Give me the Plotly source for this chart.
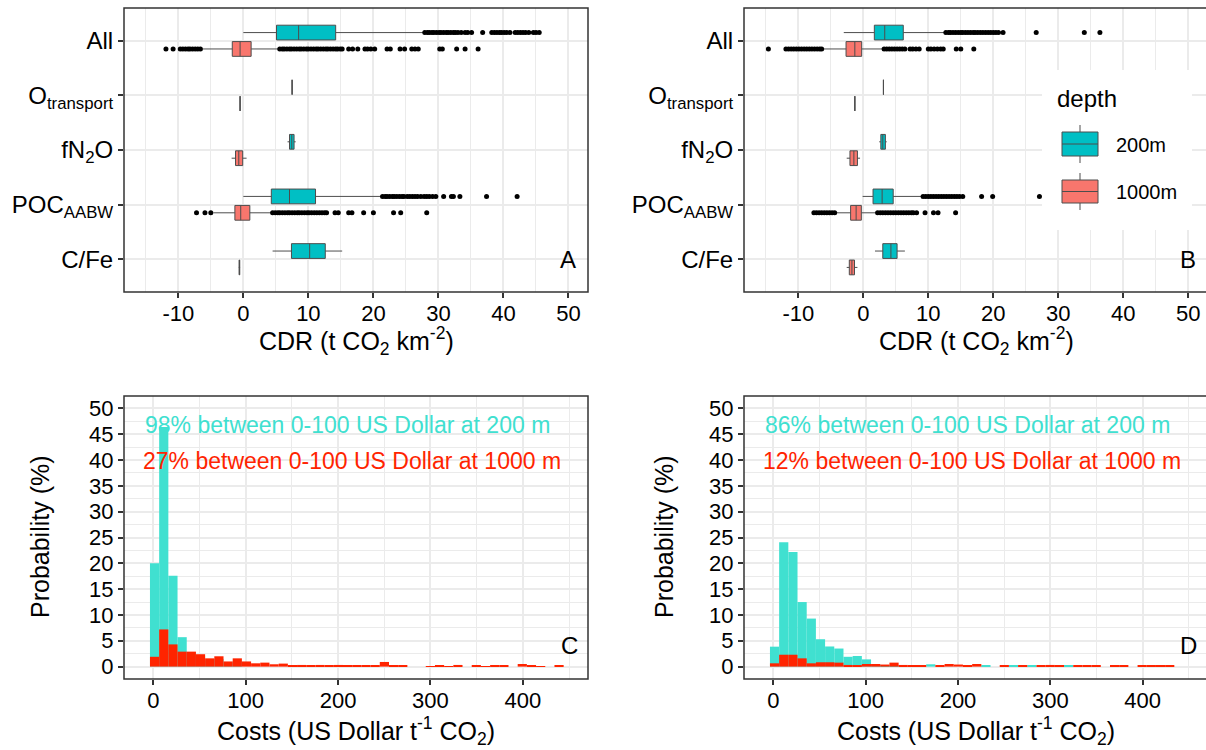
import plotly.graph_objects as go

W, H = 1206, 750
FONT = "Liberation Sans, Arial, sans-serif"

# ---------------- data: panels A / B (CDR boxplots) ----------------
categories = ["C/Fe", "POC<sub>AABW</sub>", "fN<sub>2</sub>O", "O<sub>transport</sub>", "All"]
cat_keys = ["CFe", "POC", "fN2O", "Otr", "All"]
depth_labels = ["200m", "1000m"]
x_ticks_cdr = [-10, 0, 10, 20, 30, 40, 50]
x_ticktext_cdr = ["-10", "0", "10", "20", "30", "40", "50"]

# order: C/Fe, POC_AABW, fN2O, O_transport, All
A200_low = [4.5, 0.0, 6.8, 7.5, 0.0]
A200_q1 = [7.4, 4.3, 7.1, 7.5, 5.1]
A200_med = [10.2, 7.1, 7.45, 7.5, 8.5]
A200_q3 = [12.6, 11.1, 7.8, 7.5, 14.2]
A200_up = [15.2, 21.1, 8.05, 7.5, 27.7]

A1000_low = [-0.7, -4.6, -1.8, -0.5, -6.2]
A1000_q1 = [-0.65, -1.3, -1.2, -0.5, -1.7]
A1000_med = [-0.6, -0.4, -0.7, -0.5, -0.5]
A1000_q3 = [-0.55, 1.0, -0.1, -0.5, 1.2]
A1000_up = [-0.5, 4.4, 0.5, -0.5, 5.4]

B200_low = [1.8, -0.1, 2.45, 3.1, -3.0]
B200_q1 = [3.0, 1.5, 2.7, 3.1, 1.7]
B200_med = [4.25, 2.9, 3.0, 3.1, 3.3]
B200_q3 = [5.2, 4.6, 3.4, 3.1, 6.15]
B200_up = [6.4, 9.1, 3.6, 3.1, 12.6]

B1000_low = [-2.55, -4.1, -2.55, -1.3, -6.2]
B1000_q1 = [-2.15, -1.95, -2.05, -1.3, -2.65]
B1000_med = [-1.75, -1.1, -1.45, -1.3, -1.3]
B1000_q3 = [-1.35, -0.3, -0.9, -1.3, -0.25]
B1000_up = [-0.9, 2.05, -0.5, -1.3, 3.1]

A200_out = {
    "All": [27.9, 28.3, 28.6, 29.0, 29.3, 29.7, 30.1, 30.4, 30.8, 31.2, 31.5, 31.9,
            32.3, 32.6, 33.0, 33.5, 34.1, 34.5, 35.1, 36.8, 38.2, 38.6, 39.0, 39.4,
            39.7, 40.1, 40.5, 41.0, 41.8, 42.2, 42.6, 43.0, 43.4, 43.9, 44.6, 45.0, 45.5],
    "POC": [21.4, 21.8, 22.1, 22.5, 22.9, 23.2, 23.6, 24.0, 24.4, 24.7, 25.2, 25.6,
            26.0, 26.4, 26.8, 27.3, 27.8, 28.2, 28.6, 29.1, 29.6, 30.8, 32.0, 32.3,
            33.3, 37.4, 42.1],
}
A1000_out = {
    "All": [-11.9, -10.8, -9.7, -9.3, -8.9, -8.5, -8.2, -7.8, -7.4, -7.0, -6.6,
            5.6, 6.0, 6.3, 6.7, 7.1, 7.4, 7.8, 8.2, 8.6, 8.9, 9.3, 9.7, 10.0, 10.4,
            10.8, 11.2, 11.5, 11.9, 12.3, 12.7, 13.0, 13.4, 13.8, 14.2, 14.5, 14.9,
            15.2, 16.2, 16.8, 17.6, 18.7, 19.1, 19.6, 20.2, 22.1, 22.6, 24.1, 24.8,
            25.9, 26.4, 26.9, 30.2, 30.6, 32.8, 34.1, 36.1],
    "POC": [-7.2, -5.9, -5.0, 4.5, 4.9, 5.3, 5.6, 6.0, 6.4, 6.8, 7.1, 7.5, 7.9, 8.3,
            8.6, 9.0, 9.4, 9.8, 10.1, 10.5, 10.9, 11.3, 11.7, 12.1, 12.5, 12.8, 14.1,
            14.6, 16.2, 16.7, 18.5, 20.0, 23.1, 24.2, 28.2],
}
B200_out = {
    "All": [12.7, 13.1, 13.4, 13.8, 14.2, 14.6, 15.0, 15.3, 15.7, 16.1, 16.5, 16.9,
            17.2, 17.6, 18.0, 18.4, 18.8, 19.2, 19.6, 20.0, 20.4, 20.8, 21.5, 26.6,
            34.0, 36.4],
    "POC": [9.2, 9.6, 10.0, 10.4, 10.8, 11.2, 11.6, 12.0, 12.4, 12.8, 13.2, 13.6,
            14.0, 14.4, 14.8, 15.3, 18.2, 19.9, 27.1],
}
B1000_out = {
    "All": [-14.6, -11.9, -11.5, -11.1, -10.7, -10.3, -9.9, -9.5, -9.1, -8.7, -8.3,
            -7.9, -7.5, -7.1, -6.7, -6.4, 3.2, 3.6, 4.0, 4.4, 4.8, 5.2, 5.6, 6.0, 6.4,
            7.2, 7.6, 8.1, 8.6, 10.0, 10.4, 10.9, 11.4, 11.9, 12.3, 14.3, 15.0, 17.0],
    "POC": [-7.6, -7.2, -6.8, -6.4, -6.0, -5.6, -5.2, -4.8, -4.4, 2.2, 2.6, 3.0, 3.4,
            3.8, 4.2, 4.6, 5.0, 5.4, 5.8, 6.2, 6.6, 7.0, 7.4, 7.7, 8.2, 9.5, 10.8,
            11.5, 14.2],
}

# ---------------- data: panels C / D (cost histograms, % per bin) ----------------
BIN_START = -3.6     # left edge of first bin (US Dollar)
BIN_WIDTH = 9.95
cost_ticks = [0, 100, 200, 300, 400]
prob_ticks = [0, 5, 10, 15, 20, 25, 30, 35, 40, 45, 50]

C200_pct = [20.0, 46.4, 17.6, 5.7, 2.5, 2.0, 1.2, 1.5, 0.8, 1.0]
C1000_pct = [1.9, 7.2, 4.3, 2.9, 2.9, 2.4, 1.6, 2.0, 1.0, 1.6, 1.0, 0.64, 0.77, 0.45,
             0.58, 0.2, 0.32, 0.25, 0.32, 0.2, 0.32, 0.25, 0.25, 0.13, 0.2, 0.9, 0.25,
             0.25, 0, 0, 0.1, 0.2, 0.1, 0.32, 0, 0.2, 0.1, 0.2, 0.13, 0, 0.5, 0.2, 0.1,
             0, 0.15]
D200_pct = [3.86, 24.1, 22.2, 12.5, 9.3, 5.3, 3.9, 3.5, 1.9, 2.06, 1.4, 0.45, 0.26,
            0.3, 0, 0, 0, 0.45, 0, 0, 0, 0, 0, 0.26, 0, 0, 0.2, 0, 0.2, 0, 0, 0, 0.26]
D1000_pct = [0.64, 2.3, 2.3, 1.6, 0.64, 0.84, 0.84, 0.77, 0.32, 0.13, 0.5, 0.5, 0.4,
             0.77, 0.32, 0.2, 0.2, 0, 0.2, 0.5, 0.4, 0.2, 0.5, 0, 0, 0.2, 0, 0.2, 0,
             0.13, 0.32, 0.13, 0, 0.13, 0.13, 0.13, 0, 0.2, 0.13, 0, 0.13, 0.13, 0.13,
             0.13]

C_texts = ["98% between 0-100 US Dollar at 200 m", "27% between 0-100 US Dollar at 1000 m"]
D_texts = ["86% between 0-100 US Dollar at 200 m", "12% between 0-100 US Dollar at 1000 m"]

# ---------------- styles ----------------
TEAL_BOX, RED_BOX = "#00BFC4", "#F8766D"
TEAL_H, RED_H = "#40E0D0", "#FF2400"
OUTLINE = "#4d4d4d"
BORDER = "#333333"
GRID = "#EBEBEB"
BOX_W = 0.27
DODGE = 0.15
TICK_SIZE = 22
CAT_TICK_SIZE = 24
TITLE_SIZE = 25


def px(x):
    return x / W


def py(y):
    return 1 - y / H


fig = go.Figure()
cat_pos = list(range(1, len(categories) + 1))


def add_box_panel(xa, ya, stats200, stats1000, out200, out1000):
    for stats, outs, color, off in ((stats200, out200, TEAL_BOX, DODGE),
                                    (stats1000, out1000, RED_BOX, -DODGE)):
        low, q1, med, q3, up = stats
        fig.add_trace(go.Box(
            orientation="h", y=[p + off for p in cat_pos],
            lowerfence=low, q1=q1, median=med, q3=q3, upperfence=up,
            width=BOX_W, fillcolor=color, line=dict(color=OUTLINE, width=1),
            whiskerwidth=0, boxpoints=False, showlegend=False, hoverinfo="skip",
            xaxis=xa, yaxis=ya))
        ox, oy = [], []
        for k, vals in outs.items():
            pos = cat_pos[cat_keys.index(k)] + off
            ox += vals
            oy += [pos] * len(vals)
        fig.add_trace(go.Scatter(
            x=ox, y=oy, mode="markers", marker=dict(color="black", size=5),
            showlegend=False, hoverinfo="skip", xaxis=xa, yaxis=ya))


add_box_panel("x", "y", (A200_low, A200_q1, A200_med, A200_q3, A200_up),
              (A1000_low, A1000_q1, A1000_med, A1000_q3, A1000_up), A200_out, A1000_out)
add_box_panel("x2", "y2", (B200_low, B200_q1, B200_med, B200_q3, B200_up),
              (B1000_low, B1000_q1, B1000_med, B1000_q3, B1000_up), B200_out, B1000_out)


def add_hist_panel(xa, ya, v200, v1000):
    for vals, color in ((v200, TEAL_H), (v1000, RED_H)):
        centers = [BIN_START + BIN_WIDTH * (i + 0.5) for i in range(len(vals))]
        fig.add_trace(go.Bar(x=centers, y=vals, width=BIN_WIDTH,
                             marker=dict(color=color, line=dict(width=0)),
                             showlegend=False, hoverinfo="skip", xaxis=xa, yaxis=ya))


add_hist_panel("x3", "y3", C200_pct, C1000_pct)
add_hist_panel("x4", "y4", D200_pct, D1000_pct)

# ---------------- axes ----------------
tickfont = dict(family=FONT, size=TICK_SIZE, color="black")
common = dict(ticks="outside", ticklen=5, tickwidth=1.5, tickcolor=BORDER,
              tickfont=tickfont, showgrid=True, gridcolor=GRID, gridwidth=1.6,
              zeroline=False, showline=False, fixedrange=True)

dom_top = [py(292), py(8)]
dom_bot = [py(679), py(396)]
dom_left = [px(124), px(588)]
dom_right = [px(744), 1.0]

xcdr = dict(common, tickmode="array", tickvals=x_ticks_cdr, ticktext=x_ticktext_cdr,
            minor=dict(dtick=5, tick0=0, showgrid=True, gridcolor=GRID, gridwidth=1.0))
ycat = dict(common, tickmode="array", tickvals=cat_pos, ticktext=categories,
            range=[0.4, 5.6], tickfont=dict(family=FONT, size=CAT_TICK_SIZE, color="black"))
xcost = dict(common, tickmode="array", tickvals=cost_ticks, range=[-31.7, 470.5],
             minor=dict(dtick=50, tick0=0, showgrid=True, gridcolor=GRID, gridwidth=1.0))
yprob = dict(common, tickmode="array", tickvals=prob_ticks, range=[-2.4, 52.4],
             minor=dict(dtick=2.5, tick0=0, showgrid=True, gridcolor=GRID, gridwidth=1.0))

fig.update_layout(
    width=W, height=H, margin=dict(l=0, r=0, t=0, b=0),
    paper_bgcolor="white", plot_bgcolor="white", barmode="overlay",
    showlegend=False, font=dict(family=FONT, color="black"),
    xaxis=dict(xcdr, domain=dom_left, range=[-18.35, 53.0], anchor="y"),
    yaxis=dict(ycat, domain=dom_top, anchor="x"),
    xaxis2=dict(xcdr, domain=dom_right, range=[-18.35, 52.72], anchor="y2"),
    yaxis2=dict(ycat, domain=dom_top, anchor="x2"),
    xaxis3=dict(xcost, domain=dom_left, anchor="y3"),
    yaxis3=dict(yprob, domain=dom_bot, anchor="x3"),
    xaxis4=dict(xcost, domain=dom_right, range=[-31.7, 468.5], anchor="y4"),
    yaxis4=dict(yprob, domain=dom_bot, anchor="x4"),
)

shapes = []
# panel borders
for x0, x1, y0, y1 in ((124, 588, 8, 292), (744, 1208, 8, 292),
                       (124, 588, 396, 679), (744, 1208, 396, 679)):
    shapes.append(dict(type="rect", xref="paper", yref="paper", x0=px(x0), x1=px(x1),
                       y0=py(y1), y1=py(y0), line=dict(color=BORDER, width=1.5),
                       layer="above"))

# legend (panel B)
shapes.append(dict(type="rect", xref="paper", yref="paper", x0=px(1042), x1=px(1192),
                   y0=py(230), y1=py(70), line=dict(width=0), fillcolor="white",
                   layer="above"))
for (ytop, ybot), color in (((132, 156), TEAL_BOX), ((180, 203), RED_BOX)):
    ymid = (ytop + ybot) / 2
    shapes.append(dict(type="line", xref="paper", yref="paper", x0=px(1080), x1=px(1080),
                       y0=py(ytop - 7), y1=py(ybot + 7), line=dict(color=OUTLINE, width=1),
                       layer="above"))
    shapes.append(dict(type="rect", xref="paper", yref="paper", x0=px(1062), x1=px(1098),
                       y0=py(ybot), y1=py(ytop), fillcolor=color,
                       line=dict(color=OUTLINE, width=1), layer="above"))
    shapes.append(dict(type="line", xref="paper", yref="paper", x0=px(1062), x1=px(1098),
                       y0=py(ymid), y1=py(ymid), line=dict(color=OUTLINE, width=1),
                       layer="above"))
fig.update_layout(shapes=shapes)

ann = []


def txt(text, x, y, size, xanchor="center", color="black", xref="paper", yref="paper",
        textangle=0):
    ann.append(dict(text=text, x=x, y=y, xref=xref, yref=yref, showarrow=False,
                    xanchor=xanchor, yanchor="middle", textangle=textangle,
                    font=dict(family=FONT, size=size, color=color)))


# legend text
txt("depth", px(1055), py(98), 24, xanchor="left")
txt(depth_labels[0], px(1114), py(145), 20, xanchor="left")
txt(depth_labels[1], px(1114), py(192), 20, xanchor="left")

# axis titles
txt("CDR (t CO<sub>2</sub> km<sup>-2</sup>)", px(356), py(341), TITLE_SIZE)
txt("CDR (t CO<sub>2</sub> km<sup>-2</sup>)", px(976), py(341), TITLE_SIZE)
txt("Costs (US Dollar t<sup>-1</sup> CO<sub>2</sub>)", px(356), py(731), TITLE_SIZE)
txt("Costs (US Dollar t<sup>-1</sup> CO<sub>2</sub>)", px(976), py(731), TITLE_SIZE)
txt("Probability (%)", px(40), py(537), TITLE_SIZE, textangle=-90)
txt("Probability (%)", px(664), py(537), TITLE_SIZE, textangle=-90)

# panel letters
txt("A", 50, 1, 24, xref="x", yref="y")
txt("B", 50, 1, 24, xref="x2", yref="y2")
txt("C", 450, 4, 24, xref="x3", yref="y3")
txt("D", 450, 4, 24, xref="x4", yref="y4")

# histogram annotations
txt(C_texts[0], 210, 46.8, 23, color=TEAL_H, xref="x3", yref="y3")
txt(C_texts[1], 215, 39.8, 23, color=RED_H, xref="x3", yref="y3")
txt(D_texts[0], 210, 46.8, 23, color=TEAL_H, xref="x4", yref="y4")
txt(D_texts[1], 215, 39.8, 23, color=RED_H, xref="x4", yref="y4")

fig.update_layout(annotations=ann)

# pull the x tick labels a little closer to the axis, if supported
for ax in ("xaxis", "xaxis2", "xaxis3", "xaxis4"):
    try:
        fig.layout[ax].ticklabelstandoff = -3
    except Exception:
        pass

fig.write_html("out.html", config={"displayModeBar": False},
               post_script="document.body.style.margin='0px';document.body.style.padding='0px';")
